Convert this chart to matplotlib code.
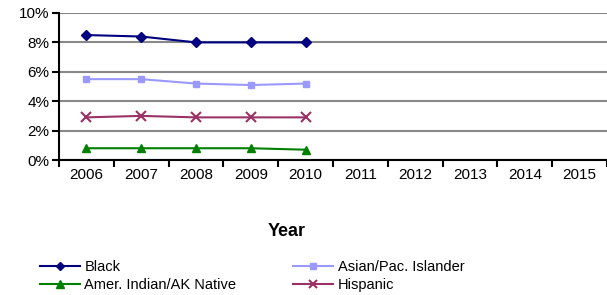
import matplotlib
matplotlib.use("Agg")
import matplotlib.pyplot as plt
from matplotlib.ticker import FixedLocator, FuncFormatter

plt.rcParams['font.family'] = ['Liberation Sans', 'DejaVu Sans']

years = ['2006', '2007', '2008', '2009', '2010', '2011', '2012', '2013', '2014', '2015']
black = [8.5, 8.4, 8.0, 8.0, 8.0]
asian = [5.5, 5.5, 5.2, 5.1, 5.2]
aian = [0.8, 0.8, 0.8, 0.8, 0.7]
hispanic = [2.9, 3.0, 2.9, 2.9, 2.9]

fig = plt.figure(figsize=(6.07, 2.95), dpi=100)
ax = fig.add_axes([59/607, 1 - 160/295, 1 - 59/607, 147/295])

x = list(range(len(black)))
ax.plot(x, black, color='#000080', marker='D', markersize=5, lw=1.5, label='Black')
ax.plot(x, asian, color='#9999FF', marker='s', markersize=5, lw=1.5, label='Asian/Pac. Islander')
ax.plot(x, aian, color='#008000', marker='^', markersize=6, lw=1.5, label='Amer. Indian/AK Native')
ax.plot(x, hispanic, color='#993366', marker='x', markersize=7, mew=1.5, lw=1.5, label='Hispanic')

ax.set_xlim(-0.5, len(years) - 0.5)
ax.set_ylim(0, 10)
ax.set_yticks(range(0, 11, 2))
ax.yaxis.set_major_formatter(FuncFormatter(lambda v, p: f'{int(v)}%'))
ax.grid(axis='y', color='#888888', lw=1.5)
ax.set_axisbelow(True)

ax.xaxis.set_major_locator(FixedLocator([i - 0.5 for i in range(len(years) + 1)]))
ax.xaxis.set_major_formatter(FuncFormatter(lambda v, p: ''))
ax.xaxis.set_minor_locator(FixedLocator(range(len(years))))
ax.set_xticklabels(years, minor=True)
ax.tick_params(axis='x', which='minor', length=0, labelsize=11, pad=6)
ax.tick_params(axis='x', which='major', length=5, width=1.5, direction='out')
ax.tick_params(axis='y', length=5, width=1.5, labelsize=11, pad=2)

for s in ['top', 'right']:
    ax.spines[s].set_visible(False)
ax.spines['left'].set_linewidth(1.5)
ax.spines['bottom'].set_linewidth(1.5)

fig.text(287/607, 1 - 232/295, 'Year', ha='center', va='center', fontsize=13, fontweight='bold')

h, l = ax.get_legend_handles_labels()
order = [0, 2, 1, 3]
fig.legend([h[i] for i in order], [l[i] for i in order], ncol=2, frameon=False,
           loc='center left', bbox_to_anchor=(34/607, 1 - 276/295), fontsize=10.5,
           handlelength=2.75, labelspacing=0.3, columnspacing=3.9, handletextpad=0.3,
           borderaxespad=0, markerscale=0.9)

fig.savefig('out.png', dpi=100)
